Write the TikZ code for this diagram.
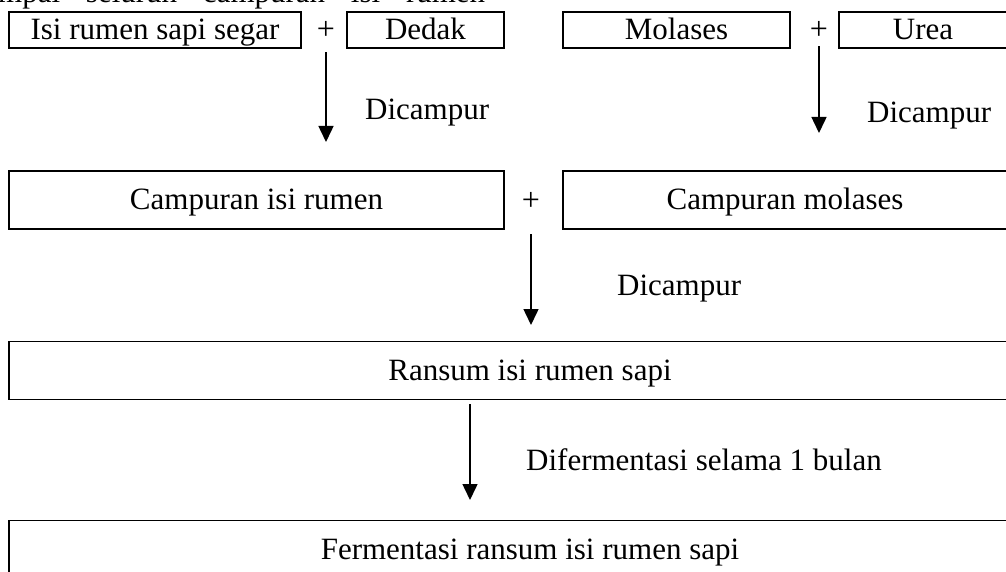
\documentclass[tikz,border=0pt]{standalone}
\usepackage{fontspec}
\setmainfont{Liberation Serif}
\usetikzlibrary{arrows.meta}
\tikzstyle{item box}=[draw,line width=1.8pt,inner sep=0pt,minimum height=36pt,text height=24pt,text depth=4pt,font=\fontsize{31}{36}\selectfont]
\tikzstyle{wide box}=[item box,minimum height=58pt]
\tikzstyle{plus sign}=[inner sep=0pt,font=\fontsize{32}{36}\selectfont]
\tikzstyle{flow label}=[anchor=west,inner sep=0pt,text height=24pt,text depth=4pt,font=\fontsize{31}{36}\selectfont]
\tikzstyle{flow}=[draw,line width=1.5pt,-{Triangle[width=15pt,length=16pt]}]

\begin{document}
\begin{tikzpicture}[x=1pt,y=-1pt]
    \useasboundingbox (0,0) rectangle (1006,572);
    \clip (0,0) rectangle (1006,572);
    % Line of text cut off above the chart
    \node[anchor=base west,inner sep=0pt,font=\fontsize{31}{36}\selectfont] (topline) at (-2,3)
        {\makebox[487pt][s]{mpai seluruh campuran isi rumen}};

    % First row of ingredients
    \foreach \pos/\w/\name/\txt in {{(155,30)/292/isi/Isi rumen sapi segar},{(425.5,30)/157/dedak/Dedak},{(676.5,30)/227/molases/Molases},{(923,30)/168/urea/Urea}}
        \node[item box,minimum width=\w pt] (\name) at \pos {\txt};

    % Mixtures and products
    \node[wide box,minimum width=495pt] (cisi) at (256.5,200) {Campuran isi rumen};
    \node[wide box,minimum width=444pt] (cmol) at (785,200) {Campuran molases};
    \node[wide box,minimum width=1042pt] (ransum) at (530,370.5) {Ransum isi rumen sapi};
    \node[wide box,minimum width=1042pt] (ferm) at (530,549.5) {Fermentasi ransum isi rumen sapi};

    % Plus signs between boxes
    \foreach \pos/\name in {{(326,30)/p1},{(819,30)/p2},{(531,201)/p3}}
        \node[plus sign] (\name) at \pos {+};

    % Arrow ends
    \coordinate (t1) at (326,142);
    \coordinate (t2) at (819,133);
    \coordinate (t3) at (531,325);
    \coordinate (t4) at (470,500);

    % Arrows and their labels
    \path[flow,shorten <=13pt] (p1) -- (t1);
    \path[flow,shorten <=7pt] (p2) -- (t2);
    \path[flow,shorten <=24pt] (p3) -- (t3);
    \path[flow,shorten <=4pt] (ransum.south -| t4) -- (t4);

    \node[flow label] (l1) at (365,110) {Dicampur};
    \node[flow label] (l2) at (867,113) {Dicampur};
    \node[flow label] (l3) at (617,285) {Dicampur};
    \node[flow label] (l4) at (526,460) {Difermentasi selama 1 bulan};
\end{tikzpicture}
\end{document}
